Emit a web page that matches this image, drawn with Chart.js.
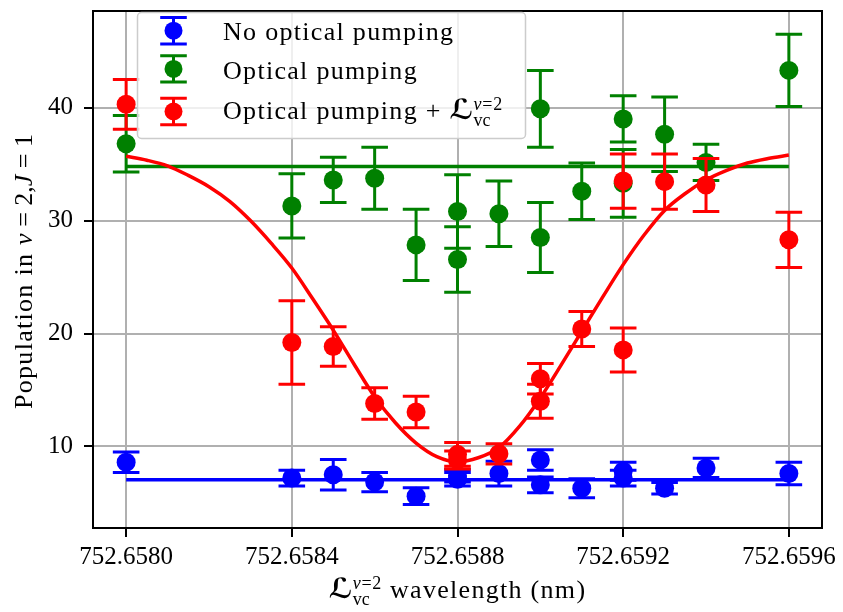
<!DOCTYPE html>
<html lang="en">
<head>
<meta charset="UTF-8">
<title>Population in v=2, J=1 vs wavelength</title>
<script src="https://cdn.jsdelivr.net/npm/chart.js"></script>
<style>
  body { margin: 0; background: #fff; }
  canvas { display: block; }
</style>
</head>
<body>
<canvas id="chart" width="843" height="612"></canvas>
<script>
// measured wavelengths (nm); 752.6588, .6590 and .6592 were measured twice
const wavelengths = [752.6580, 752.6584, 752.6585, 752.6586, 752.6587, 752.6588, 752.6588, 752.6589,
                     752.6590, 752.6590, 752.6591, 752.6592, 752.6592, 752.6593, 752.6594, 752.6596];

const noPumpY    = [8.6, 7.2, 7.5, 6.85, 5.6, 7.4, 7.1, 7.6, 8.8, 6.6, 6.3, 7.8, 7.2, 6.3, 8.1, 7.6];
const noPumpErr  = [0.9, 0.7, 1.35, 0.85, 0.75, 0.55, 0.6, 1.1, 0.9, 0.7, 0.85, 0.8, 0.7, 0.5, 0.85, 1.0];

const pumpY      = [36.8, 31.3, 33.6, 33.75, 27.85, 30.8, 26.55, 30.6, 39.9, 28.5, 32.6, 39.0, 33.3, 37.65, 35.15, 43.3];
const pumpErr    = [2.5, 2.85, 2.0, 2.75, 3.15, 3.25, 2.9, 2.9, 3.4, 3.1, 2.5, 2.05, 3.0, 3.3, 1.6, 3.2];

const pumpLvcY   = [40.3, 19.2, 18.85, 13.8, 13.05, 9.3, 8.8, 9.35, 16.0, 14.0, 20.4, 33.5, 18.55, 33.45, 33.15, 28.3];
const pumpLvcErr = [2.2, 3.7, 1.75, 1.4, 1.4, 1.05, 0.8, 0.9, 1.35, 1.5, 1.55, 2.4, 1.95, 2.45, 2.35, 2.45];

// fit results
const flatFitX  = [752.6580, 752.6596];
const noPumpFit = [7.05, 7.05];
const pumpFit   = [34.78, 34.78];
const dipFitX = [752.6580, 752.65805, 752.6581, 752.65815, 752.6582, 752.65825, 752.6583, 752.65835,
                 752.6584, 752.65845, 752.6585, 752.65855, 752.6586, 752.65865, 752.6587, 752.65875,
                 752.6588, 752.65885, 752.6589, 752.65895, 752.6590, 752.65905, 752.6591, 752.65915,
                 752.6592, 752.65925, 752.6593, 752.65935, 752.6594, 752.65945, 752.6595, 752.65955,
                 752.6596];
const dipFitY = [35.7, 35.35, 34.85, 34.0, 33.0, 31.7, 30.0, 28.0,
                 25.8, 23.1, 20.3, 17.3, 14.4, 12.1, 10.3, 9.1,
                 8.65, 9.0, 9.9, 11.8, 14.3, 17.2, 20.2, 23.2,
                 26.1, 28.7, 30.9, 32.4, 33.6, 34.45, 35.1, 35.5,
                 35.8];

const xTicks = [752.6580, 752.6584, 752.6588, 752.6592, 752.6596];
const yTicks = [10, 20, 30, 40];
const seriesLabels = ['No optical pumping', 'Optical pumping', 'Optical pumping + '];

const BLUE = '#0000ff', GREEN = '#008000', RED = '#ff0000';
const SERIF = "'Liberation Serif', 'DejaVu Serif', serif";
const SCRIPT = "'DejaVu Sans', 'DejaVu Serif', sans-serif";

function points(ys) { return wavelengths.map((x, i) => ({ x: x, y: ys[i] })); }
function curve(xs, ys) { return xs.map((x, i) => ({ x: x, y: ys[i] })); }

// --- small rich-text helper for the math bits (sub/superscripts) ---
function seg(t, size, style, dy, ls) {
    return { t: t, font: (style || '') + ' ' + size + 'px ' + SERIF, dy: dy || 0, ls: ls || 0 };
}
function segWidth(ctx, s) {
    ctx.font = s.font; ctx.letterSpacing = s.ls + 'px';
    return ctx.measureText(s.t).width;
}
function runWidth(ctx, run) {
    let w = 0;
    for (const s of run) {
        w += s.stack ? Math.max(...s.stack.map(r => runWidth(ctx, r))) : segWidth(ctx, s);
    }
    return w;
}
function drawRun(ctx, run, x, y) {
    for (const s of run) {
        if (s.stack) {
            s.stack.forEach(r => drawRun(ctx, r, x, y));
            x += Math.max(...s.stack.map(r => runWidth(ctx, r)));
        } else {
            ctx.font = s.font; ctx.letterSpacing = s.ls + 'px';
            ctx.fillText(s.t, x, y + s.dy);
            x += ctx.measureText(s.t).width;
        }
    }
    return x;
}
// bold calligraphic L with subscript "vc" and superscript "v=2"
function laserRun() {
    return [
        { t: '\u2112', font: 'bold 28px ' + SCRIPT, dy: 0, ls: 0 },
        { stack: [
            [seg('vc', 18, '', 7)],
            [seg('v', 18, 'italic', -9, 0.8), seg('=2', 18, '', -9, 0.8)]
        ] }
    ];
}

const errorBars = {
    id: 'errorBars',
    beforeDatasetDraw(chart, args) {
        const ds = chart.data.datasets[args.index];
        if (!ds.errors) return;
        const { ctx, scales: { x, y } } = chart;
        ctx.save();
        ctx.strokeStyle = ds.backgroundColor;
        ctx.lineWidth = 3;
        ds.data.forEach((p, i) => {
            const px = x.getPixelForValue(p.x);
            const top = y.getPixelForValue(p.y + ds.errors[i]);
            const bot = y.getPixelForValue(p.y - ds.errors[i]);
            ctx.beginPath();
            ctx.moveTo(px, top); ctx.lineTo(px, bot);
            ctx.moveTo(px - 13.3, top); ctx.lineTo(px + 13.3, top);
            ctx.moveTo(px - 13.3, bot); ctx.lineTo(px + 13.3, bot);
            ctx.stroke();
        });
        ctx.restore();
    }
};

const frameAndText = {
    id: 'frameAndText',
    afterDraw(chart) {
        const { ctx, chartArea: a } = chart;
        ctx.save();
        // spines
        ctx.strokeStyle = '#000';
        ctx.lineWidth = 2;
        ctx.strokeRect(a.left, a.top, a.right - a.left, a.bottom - a.top);

        ctx.fillStyle = '#000';
        ctx.textBaseline = 'alphabetic';

        // x title
        const xt = laserRun().concat([seg(' wavelength (nm)', 26, '', 0, 1.3)]);
        drawRun(ctx, xt, (a.left + a.right) / 2 - runWidth(ctx, xt) / 2, 598);

        // y title (rotated)
        const yt = [seg('Population in ', 26, '', 0, 1.3), seg('v', 26, 'italic'), seg(' = 2,', 26),
                    seg('J', 26, 'italic'), seg(' = 1', 26)];
        ctx.save();
        ctx.translate(32, (a.top + a.bottom) / 2 + 2);
        ctx.rotate(-Math.PI / 2);
        drawRun(ctx, yt, -runWidth(ctx, yt) / 2, 0);
        ctx.restore();

        // legend
        ctx.beginPath();
        ctx.roundRect(137.5, 12.5, 388, 126, 4);
        ctx.fillStyle = 'rgba(255,255,255,0.8)';
        ctx.fill();
        ctx.strokeStyle = '#cccccc';
        ctx.lineWidth = 1.5;
        ctx.stroke();

        const colors = [BLUE, GREEN, RED];
        const rowY = [30.7, 68.9, 111.5];
        const baseY = [39.5, 79, 118.5];
        colors.forEach((c, i) => {
            const mx = 173.5, my = rowY[i];
            ctx.strokeStyle = c; ctx.fillStyle = c; ctx.lineWidth = 3;
            ctx.beginPath();
            ctx.moveTo(mx, my - 13.2); ctx.lineTo(mx, my + 13.2);
            ctx.moveTo(mx - 13.3, my - 13.2); ctx.lineTo(mx + 13.3, my - 13.2);
            ctx.moveTo(mx - 13.3, my + 13.2); ctx.lineTo(mx + 13.3, my + 13.2);
            ctx.stroke();
            ctx.beginPath();
            ctx.arc(mx, my, 9, 0, Math.PI * 2);
            ctx.fill();
            ctx.fillStyle = '#000';
            let run = [seg(seriesLabels[i], 26, '', 0, 1.3)];
            if (i === 2) run = run.concat(laserRun());
            drawRun(ctx, run, 223, baseY[i]);
        });
        ctx.restore();
    }
};

const tickFont = { family: SERIF, size: 25 };

new Chart(document.getElementById('chart'), {
    type: 'scatter',
    data: {
        datasets: [
            { label: seriesLabels[0], data: points(noPumpY), errors: noPumpErr,
              backgroundColor: BLUE, borderColor: BLUE, pointRadius: 9.5, pointBorderWidth: 0, order: 6 },
            { type: 'line', data: curve(flatFitX, noPumpFit), borderColor: BLUE, borderWidth: 3.5,
              pointRadius: 0, fill: false, order: 5 },
            { label: seriesLabels[1], data: points(pumpY), errors: pumpErr,
              backgroundColor: GREEN, borderColor: GREEN, pointRadius: 9.5, pointBorderWidth: 0, order: 4 },
            { type: 'line', data: curve(flatFitX, pumpFit), borderColor: GREEN, borderWidth: 3.5,
              pointRadius: 0, fill: false, order: 3 },
            { label: seriesLabels[2], data: points(pumpLvcY), errors: pumpLvcErr,
              backgroundColor: RED, borderColor: RED, pointRadius: 9.5, pointBorderWidth: 0, order: 2 },
            { type: 'line', data: curve(dipFitX, dipFitY), borderColor: RED, borderWidth: 3.5,
              pointRadius: 0, fill: false, cubicInterpolationMode: 'monotone', order: 1 }
        ]
    },
    options: {
        responsive: false,
        animation: false,
        layout: { padding: { top: 11, right: 21, left: 0, bottom: 0 } },
        plugins: { legend: { display: false }, tooltip: { enabled: false } },
        scales: {
            x: {
                type: 'linear',
                min: 752.65792,
                max: 752.65968,
                afterBuildTicks: axis => { axis.ticks = xTicks.map(v => ({ value: v })); },
                afterFit: axis => { axis.height = 84; axis.paddingLeft = 0; axis.paddingRight = 0; },
                ticks: { font: tickFont, color: '#000', padding: 5.5, maxRotation: 0, autoSkip: false,
                         callback: v => Number(v).toFixed(4) },
                grid: { color: '#b0b0b0', lineWidth: 2, tickColor: '#000', tickWidth: 2, tickLength: 9 },
                border: { display: false }
            },
            y: {
                min: 2.78,
                max: 48.56,
                afterBuildTicks: axis => { axis.ticks = yTicks.map(v => ({ value: v })); },
                afterFit: axis => { axis.width = 93; axis.paddingTop = 0; axis.paddingBottom = 0; },
                ticks: { font: tickFont, color: '#000', padding: 11 },
                grid: { color: '#b0b0b0', lineWidth: 2, tickColor: '#000', tickWidth: 2, tickLength: 9 },
                border: { display: false }
            }
        }
    },
    plugins: [errorBars, frameAndText]
});
</script>
</body>
</html>
